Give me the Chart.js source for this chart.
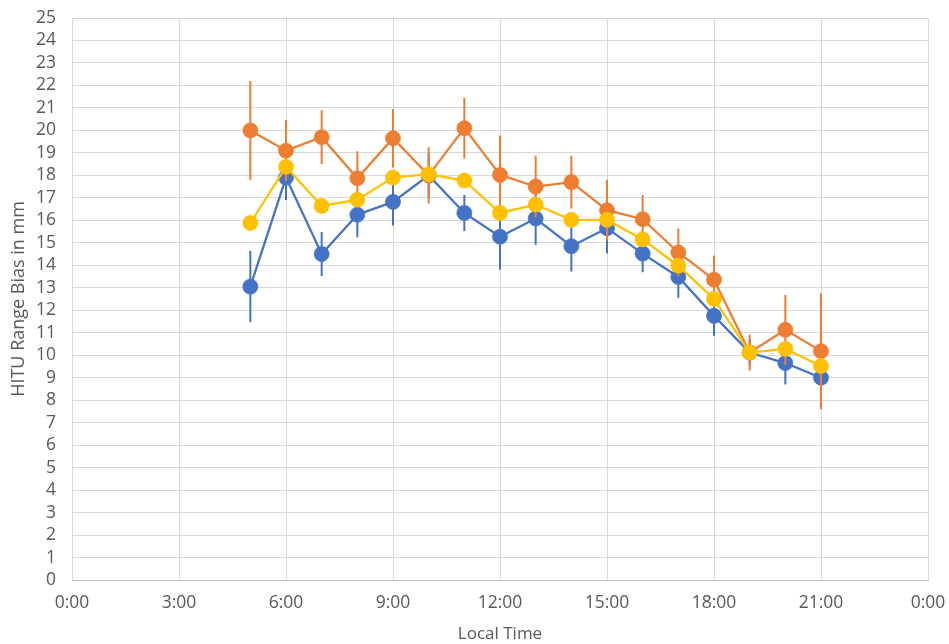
<!DOCTYPE html>
<html>
<head>
<meta charset="utf-8">
<style>
  html, body { margin: 0; padding: 0; background: #ffffff; }
  #wrap { width: 949px; height: 644px; position: relative; }
</style>
<script src="https://cdn.jsdelivr.net/npm/chart.js@4.4.1/dist/chart.umd.min.js"></script>
</head>
<body>
<div id="wrap"><canvas id="c" width="949" height="644"></canvas></div>
<script>
// Local hour of each sample
const hours = [5, 6, 7, 8, 9, 10, 11, 12, 13, 14, 15, 16, 17, 18, 19, 20, 21];

// Series values (mm)
const blueValues   = [13.05, 17.9, 14.5, 16.25, 16.82, 18.0, 16.33, 15.27, 16.08, 14.85, 15.65, 14.52, 13.48, 11.75, 10.12, 9.65, 9.0];
const orangeValues = [20.0, 19.1, 19.7, 17.87, 19.65, 18.0, 20.1, 18.02, 17.5, 17.7, 16.45, 16.05, 14.57, 13.36, 10.12, 11.13, 10.18];
const yellowValues = [15.88, 18.38, 16.64, 16.92, 17.9, 18.05, 17.77, 16.33, 16.7, 16.02, 16.02, 15.15, 13.98, 12.5, 10.12, 10.28, 9.52];

// Symmetric error bar half-lengths (mm)
const blueErrors   = [1.58, 1.0, 0.98, 1.0, 1.05, 1.0, 0.8, 1.47, 1.17, 1.13, 1.12, 0.83, 0.92, 0.88, 0.6, 0.95, 1.2];
const orangeErrors = [2.2, 1.35, 1.2, 1.2, 1.3, 1.25, 1.35, 1.75, 1.37, 1.17, 1.35, 1.08, 1.07, 1.07, 0.8, 1.55, 2.58];

// Axis tick settings
const xTickHours = [0, 3, 6, 9, 12, 15, 18, 21, 24];
const yMin = 0, yMax = 25, yStep = 1;

const blueColor = '#4472C4';
const orangeColor = '#ED7D31';
const yellowColor = '#FFC000';

function toPoints(vals) {
  return hours.map((h, i) => ({ x: h, y: vals[i] }));
}

const errorBarPlugin = {
  id: 'errorBars',
  beforeDatasetDraw(chart, args) {
    const ds = chart.data.datasets[args.index];
    if (!ds.errors) return;
    const xs = chart.scales.x, ys = chart.scales.y;
    const ctx = chart.ctx;
    ctx.save();
    ctx.strokeStyle = ds.borderColor;
    ctx.lineWidth = 2;
    ctx.beginPath();
    ds.data.forEach((p, i) => {
      const e = ds.errors[i];
      const px = xs.getPixelForValue(p.x);
      ctx.moveTo(px, ys.getPixelForValue(p.y + e));
      ctx.lineTo(px, ys.getPixelForValue(p.y - e));
    });
    ctx.stroke();
    ctx.restore();
  }
};

const FONT = "'Open Sans', 'Liberation Sans', sans-serif";

new Chart(document.getElementById('c'), {
  type: 'line',
  data: {
    datasets: [
      { label: 'Blue', data: toPoints(blueValues), errors: blueErrors, borderColor: blueColor, backgroundColor: blueColor,
        borderWidth: 2.25, pointRadius: 7.5, pointBorderWidth: 0.75, pointBorderColor: blueColor, pointBackgroundColor: blueColor, order: 3 },
      { label: 'Orange', data: toPoints(orangeValues), errors: orangeErrors, borderColor: orangeColor, backgroundColor: orangeColor,
        borderWidth: 2.25, pointRadius: 7.5, pointBorderWidth: 0.75, pointBorderColor: orangeColor, pointBackgroundColor: orangeColor, order: 2 },
      { label: 'Yellow', data: toPoints(yellowValues), borderColor: yellowColor, backgroundColor: yellowColor,
        borderWidth: 2.25, pointRadius: 7.5, pointBorderWidth: 0.75, pointBorderColor: yellowColor, pointBackgroundColor: yellowColor, order: 1 }
    ]
  },
  options: {
    responsive: false,
    animation: false,
    layout: { padding: { top: 0, right: 0, left: 0, bottom: 0 } },
    plugins: { legend: { display: false }, tooltip: { enabled: false } },
    elements: { line: { tension: 0 } },
    scales: {
      x: {
        type: 'linear', min: 0, max: 24,
        afterBuildTicks(s) { s.ticks = xTickHours.map(v => ({ value: v })); },
        ticks: {
          color: '#595959', font: { family: FONT, size: 17.5 }, padding: 13,
          maxRotation: 0, autoSkip: false,
          callback: v => ((v % 24) + ':00')
        },
        grid: { color: '#d9d9d9', lineWidth: 1, drawTicks: false },
        border: { color: '#bfbfbf', width: 1 },
        title: { display: true, text: 'Local Time', color: '#595959', font: { family: FONT, size: 17 }, padding: { top: 0, bottom: 0 } },
        afterFit(s) { s.height = 64; s.paddingRight = 21; s.paddingLeft = 0; }
      },
      y: {
        min: yMin, max: yMax,
        ticks: { stepSize: yStep, autoSkip: false, color: '#595959', font: { family: FONT, size: 17.5 }, padding: 16 },
        grid: { color: '#d9d9d9', lineWidth: 1, drawTicks: false },
        border: { color: '#d9d9d9', width: 1 },
        title: { display: true, text: 'HITU Range Bias in mm', color: '#595959', font: { family: FONT, size: 18 }, padding: { top: 8, bottom: 0 } },
        afterFit(s) { s.width = 72; s.paddingTop = 18; s.paddingBottom = 0; }
      }
    }
  },
  plugins: [errorBarPlugin]
});
</script>
</body>
</html>
